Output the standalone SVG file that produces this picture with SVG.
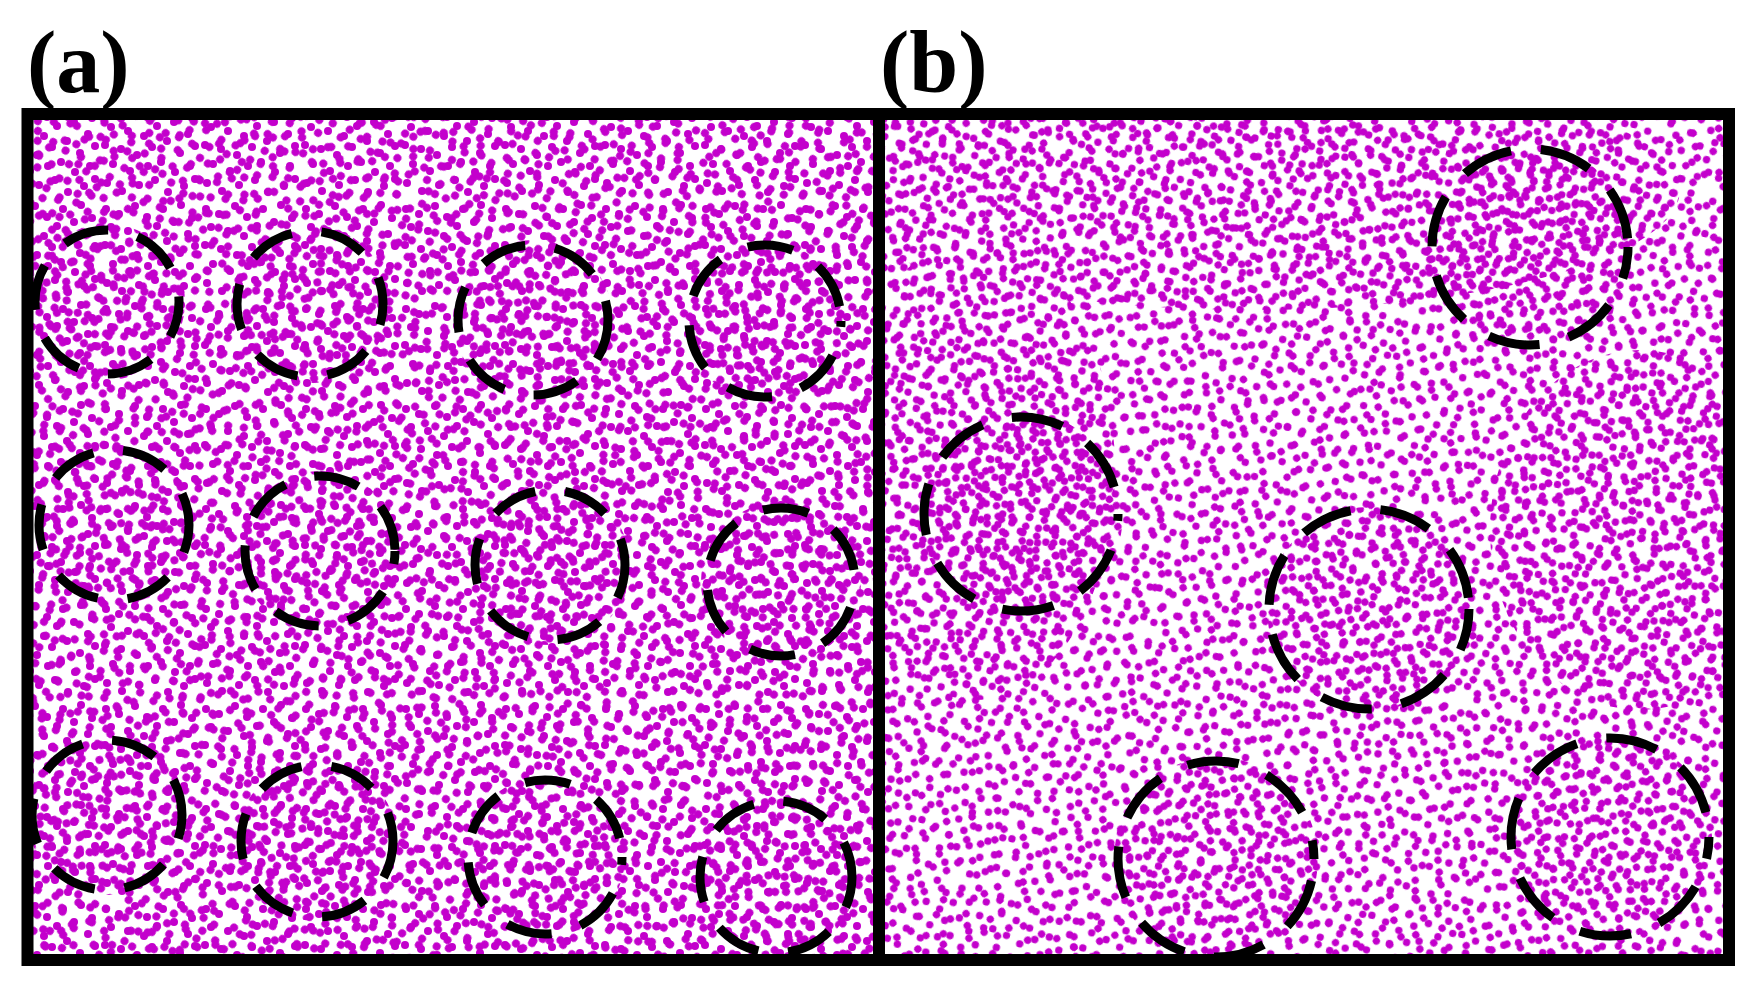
<svg xmlns="http://www.w3.org/2000/svg" width="1756" height="988" viewBox="0 0 1756 988">
<style>
.lbl{font-family:"Liberation Serif","Times New Roman",serif;font-weight:bold;font-size:88px;fill:#000}
.ring{fill:none;stroke:#000;stroke-width:9}
.ra{stroke-dasharray:46 30}
.rb{stroke-dasharray:52 30}
</style>
<defs>
<g id="dotsA" fill="#C300CC">
<circle cx="6" cy="9" r="4"/><circle cx="19" cy="14" r="4"/><circle cx="35" cy="6" r="4"/><circle cx="47" cy="17" r="4"/><circle cx="63" cy="9" r="4"/><circle cx="81" cy="5" r="4"/><circle cx="92" cy="18" r="4"/>
<circle cx="11" cy="27" r="4"/><circle cx="28" cy="31" r="4"/><circle cx="44" cy="36" r="4"/><circle cx="57" cy="26" r="4"/><circle cx="74" cy="22" r="4"/><circle cx="88" cy="34" r="4"/>
<circle cx="5" cy="45" r="4"/><circle cx="21" cy="49" r="4"/><circle cx="37" cy="55" r="4"/><circle cx="52" cy="47" r="4"/><circle cx="67" cy="41" r="4"/><circle cx="80" cy="53" r="4"/><circle cx="95" cy="46" r="4"/>
<circle cx="13" cy="64" r="4"/><circle cx="30" cy="71" r="4"/><circle cx="48" cy="66" r="4"/><circle cx="61" cy="62" r="4"/><circle cx="75" cy="72" r="4"/><circle cx="90" cy="66" r="4"/>
<circle cx="7" cy="83" r="4"/><circle cx="22" cy="91" r="4"/><circle cx="39" cy="85" r="4"/><circle cx="55" cy="80" r="4"/><circle cx="68" cy="92" r="4"/><circle cx="84" cy="86" r="4"/><circle cx="95" cy="79" r="4"/>
</g>
<g id="dotsB" fill="#C300CC">
<circle cx="9" cy="6" r="4"/><circle cx="27" cy="11" r="4"/><circle cx="42" cy="4" r="4"/><circle cx="56" cy="15" r="4"/><circle cx="73" cy="7" r="4"/><circle cx="90" cy="12" r="4"/><circle cx="104" cy="5" r="4"/>
<circle cx="4" cy="25" r="4"/><circle cx="18" cy="33" r="4"/><circle cx="36" cy="24" r="4"/><circle cx="51" cy="30" r="4"/><circle cx="66" cy="27" r="4"/><circle cx="83" cy="36" r="4"/><circle cx="99" cy="24" r="4"/>
<circle cx="12" cy="48" r="4"/><circle cx="28" cy="52" r="4"/><circle cx="45" cy="45" r="4"/><circle cx="61" cy="55" r="4"/><circle cx="77" cy="47" r="4"/><circle cx="95" cy="53" r="4"/>
<circle cx="6" cy="69" r="4"/><circle cx="22" cy="72" r="4"/><circle cx="38" cy="66" r="4"/><circle cx="54" cy="76" r="4"/><circle cx="70" cy="68" r="4"/><circle cx="87" cy="74" r="4"/><circle cx="104" cy="66" r="4"/>
<circle cx="15" cy="85" r="4"/><circle cx="47" cy="85" r="4"/><circle cx="80" cy="85" r="4"/>
</g>
<pattern id="pA1" width="100" height="100" patternUnits="userSpaceOnUse"><use href="#dotsA"/></pattern>
<pattern id="pA2" width="110" height="90" patternUnits="userSpaceOnUse" patternTransform="translate(13 7) rotate(31)"><use href="#dotsB"/></pattern>
<pattern id="pA3" width="100" height="100" patternUnits="userSpaceOnUse" patternTransform="translate(41 23) rotate(-52)"><use href="#dotsA"/></pattern>
<pattern id="pA4" width="110" height="90" patternUnits="userSpaceOnUse" patternTransform="translate(5 61) rotate(73)"><use href="#dotsB"/></pattern>
<pattern id="pB1" width="100" height="100" patternUnits="userSpaceOnUse" patternTransform="translate(880 110) rotate(12) scale(0.92)"><use href="#dotsA"/></pattern>
<pattern id="pB2" width="110" height="90" patternUnits="userSpaceOnUse" patternTransform="translate(903 141) rotate(-38) scale(0.92)"><use href="#dotsB"/></pattern>
<pattern id="pB3" width="100" height="100" patternUnits="userSpaceOnUse" patternTransform="translate(917 129) rotate(61) scale(0.92)"><use href="#dotsA"/></pattern>
<pattern id="pB4" width="110" height="90" patternUnits="userSpaceOnUse" patternTransform="translate(931 117) rotate(103) scale(0.92)"><use href="#dotsB"/></pattern>
<clipPath id="clipA"><rect x="33" y="119" width="841" height="835"/></clipPath>
<clipPath id="clipB"><rect x="885" y="119" width="838" height="835"/></clipPath>
<clipPath id="denseA">
<circle cx="107" cy="302" r="78"/><circle cx="310" cy="304" r="79"/><circle cx="533" cy="320" r="80"/><circle cx="765" cy="321" r="80"/>
<circle cx="114" cy="525" r="80"/><circle cx="320" cy="551" r="80"/><circle cx="550" cy="565" r="80"/><circle cx="781" cy="582" r="80"/>
<circle cx="107" cy="815" r="80"/><circle cx="317" cy="841" r="80"/><circle cx="545" cy="857" r="80"/><circle cx="776" cy="877" r="80"/>
</clipPath>
<clipPath id="denseB">
<circle cx="1530" cy="247" r="102"/><circle cx="1021" cy="514" r="102"/><circle cx="1369" cy="609" r="102"/><circle cx="1216" cy="859" r="102"/><circle cx="1610" cy="837" r="102"/>
</clipPath>
<clipPath id="midB">
<ellipse cx="1250" cy="190" rx="430" ry="120"/>
<ellipse cx="975" cy="470" rx="140" ry="230"/>
<ellipse cx="1640" cy="530" rx="150" ry="180"/>
</clipPath>
</defs>
<rect width="1756" height="988" fill="#fff"/>
<g id="panel-a-dots" clip-path="url(#clipA)">
<rect x="33" y="119" width="841" height="835" fill="url(#pA1)"/>
<rect x="33" y="119" width="841" height="835" fill="url(#pA2)"/>
<rect x="33" y="119" width="841" height="835" fill="url(#pA3)"/>
<g clip-path="url(#denseA)"><rect x="33" y="119" width="841" height="835" fill="url(#pA4)"/></g>
</g>
<g id="panel-b-dots" clip-path="url(#clipB)">
<rect x="885" y="119" width="838" height="835" fill="url(#pB1)"/>
<rect x="885" y="119" width="838" height="835" fill="url(#pB2)"/>
<g clip-path="url(#midB)"><rect x="885" y="119" width="838" height="835" fill="url(#pB4)"/></g>
<g clip-path="url(#denseB)"><rect x="885" y="119" width="838" height="835" fill="url(#pB3)"/></g>
</g>
<g id="rings-a">
<circle class="ring ra" cx="107" cy="302" r="72" stroke-dashoffset="10"/>
<circle class="ring ra" cx="310" cy="304" r="73" stroke-dashoffset="25"/>
<circle class="ring ra" cx="533" cy="320" r="75" stroke-dashoffset="5"/>
<circle class="ring ra" cx="765" cy="321" r="76" stroke-dashoffset="40"/>
<circle class="ring ra" cx="114" cy="525" r="75" stroke-dashoffset="18"/>
<circle class="ring ra" cx="320" cy="551" r="75" stroke-dashoffset="33"/>
<circle class="ring ra" cx="550" cy="565" r="75" stroke-dashoffset="12"/>
<circle class="ring ra" cx="781" cy="582" r="74" stroke-dashoffset="50"/>
<circle class="ring ra" cx="107" cy="815" r="75" stroke-dashoffset="22"/>
<circle class="ring ra" cx="317" cy="841" r="76" stroke-dashoffset="8"/>
<circle class="ring ra" cx="545" cy="857" r="77" stroke-dashoffset="38"/>
<circle class="ring ra" cx="776" cy="877" r="76" stroke-dashoffset="15"/>
</g>
<g id="rings-b">
<circle class="ring rb" cx="1530" cy="247" r="98" stroke-dashoffset="20"/>
<circle class="ring rb" cx="1021" cy="514" r="97" stroke-dashoffset="45"/>
<circle class="ring rb" cx="1369" cy="609" r="100" stroke-dashoffset="10"/>
<circle class="ring rb" cx="1216" cy="859" r="98" stroke-dashoffset="60"/>
<circle class="ring rb" cx="1610" cy="837" r="99" stroke-dashoffset="30"/>
</g>
<g id="frame">
<rect x="27.5" y="114" width="1701.5" height="846" fill="none" stroke="#000" stroke-width="12"/>
<line x1="879" y1="114" x2="879" y2="960" stroke="#000" stroke-width="12"/>
</g>
<g id="labels">
<text class="lbl" x="27" y="92">(a)</text>
<text class="lbl" x="880" y="92">(b)</text>
</g>
</svg>
